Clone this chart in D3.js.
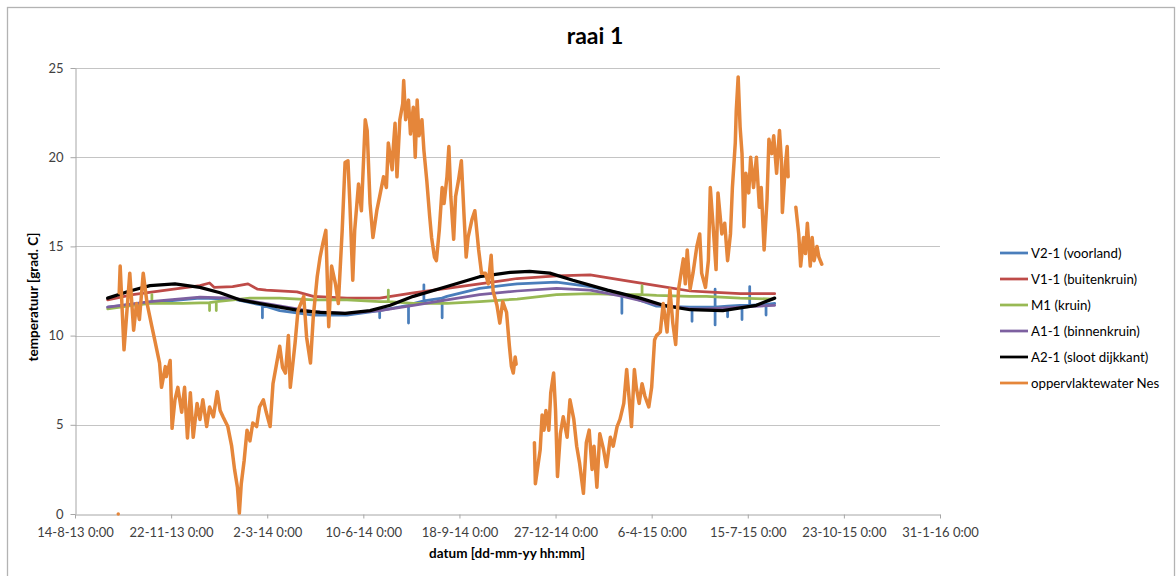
<!DOCTYPE html>
<html>
<head>
<meta charset="utf-8">
<script src="https://cdn.jsdelivr.net/npm/d3@7"></script>
<style>
  html, body { margin: 0; padding: 0; background: #ffffff; }
  svg { display: block; font-family: Lato, "Open Sans", "Liberation Sans", sans-serif; }
</style>
</head>
<body>
<svg id="chart" width="1176" height="576"></svg>
<script>
// ---- labels ----
const chartTitle = "raai 1";
const xAxisTitle = "datum [dd-mm-yy hh:mm]";
const yAxisTitle = "temperatuur [grad. C]";

// x axis: spreadsheet serial day numbers (days since 30-12-1899), one tick every 100 days
const xTickSerials = [41500, 41600, 41700, 41800, 41900, 42000, 42100, 42200, 42300, 42400];
const xTickLabels = ["14-8-13 0:00", "22-11-13 0:00", "2-3-14 0:00", "10-6-14 0:00", "18-9-14 0:00",
                     "27-12-14 0:00", "6-4-15 0:00", "15-7-15 0:00", "23-10-15 0:00", "31-1-16 0:00"];
const yTickValues = [0, 5, 10, 15, 20, 25];

const seriesNames = ["V2-1 (voorland)", "V1-1 (buitenkruin)", "M1 (kruin)",
                     "A1-1 (binnenkruin)", "A2-1 (sloot dijkkant)", "oppervlaktewater Nes"];
const seriesColors = ["#4A7EBB", "#BE4B48", "#98B954", "#7D60A0", "#000000", "#E5863A"];

// ---- measurements: [serial day, temperature °C]; null marks a gap in the record ----
const v2_1 = [[41534,11.6],[41578,11.85],[41630,12.1],[41664,12.05],[41695,11.7],[41695,11.0],[41695,11.7],
  [41713,11.4],[41748,11.15],[41783,11.15],[41817,11.4],[41817,11.0],[41817,11.4],[41847,11.7],[41847,10.7],
  [41847,11.7],[41852,11.8],[41863,11.95],[41863,12.85],[41863,11.95],[41882,12.1],[41882,11.0],[41882,12.1],
  [41887,12.2],[41921,12.65],[41960,12.9],[42001,13.0],[42036,12.75],[42069,12.35],[42069,11.25],[42069,12.35],
  [42071,12.3],[42105,11.65],[42140,11.6],[42142,11.6],[42142,10.8],[42142,11.6],[42157,11.6],[42166,11.6],
  [42166,10.6],[42166,12.6],[42166,11.6],[42179,11.65],[42179,11.05],[42179,11.65],[42192,11.7],[42194,11.7],
  [42194,10.9],[42194,11.7],[42202,11.7],[42202,12.75],[42202,11.7],[42219,11.75],[42219,11.15],[42219,11.75],
  [42228,11.8]];

const v1_1 = [[41534,12.0],[41560,12.3],[41595,12.55],[41630,12.8],[41640,12.95],[41645,12.7],[41664,12.75],
  [41680,12.9],[41690,12.6],[41699,12.55],[41731,12.45],[41748,12.2],[41783,12.1],[41817,12.1],[41852,12.4],
  [41887,12.65],[41921,12.9],[41960,13.2],[42001,13.35],[42036,13.4],[42071,13.1],[42105,12.8],[42140,12.5],
  [42157,12.45],[42192,12.35],[42228,12.35]];

const m1 = [[41534,11.5],[41560,11.7],[41578,11.8],[41580,11.8],[41580,12.3],[41580,11.8],[41612,11.8],
  [41640,11.85],[41640,11.4],[41640,11.85],[41647,11.9],[41647,11.4],[41647,11.9],[41682,12.1],[41713,12.1],
  [41748,12.0],[41783,12.0],[41817,11.9],[41826,11.9],[41826,12.55],[41826,11.9],[41852,11.8],[41887,11.8],
  [41921,11.9],[41960,12.05],[42001,12.3],[42036,12.35],[42070,12.3],[42090,12.3],[42090,12.8],[42090,12.3],
  [42105,12.25],[42140,12.2],[42157,12.2],[42192,12.1],[42226,12.05]];

const a1_1 = [[41534,11.6],[41578,11.9],[41630,12.15],[41664,12.1],[41699,11.8],[41731,11.5],[41748,11.35],
  [41783,11.25],[41817,11.4],[41852,11.7],[41887,12.0],[41921,12.3],[41960,12.5],[42001,12.65],[42036,12.55],
  [42070,12.2],[42105,11.75],[42140,11.5],[42157,11.5],[42192,11.6],[42228,11.7]];

const a2_1 = [[41534,12.1],[41557,12.5],[41578,12.8],[41604,12.9],[41630,12.7],[41651,12.4],[41664,12.15],
  [41672,12.0],[41692,11.8],[41713,11.6],[41734,11.4],[41755,11.3],[41781,11.25],[41807,11.4],[41828,11.7],
  [41852,12.2],[41887,12.75],[41921,13.3],[41953,13.55],[41973,13.6],[41994,13.5],[42018,13.1],[42054,12.55],
  [42088,12.1],[42112,11.7],[42140,11.45],[42174,11.4],[42209,11.7],[42228,12.1]];

const nes = [[41545,0],[41545.5,null],
  [41546,12.4],[41547,13.9],[41551,9.2],[41557,13.5],[41561,10.3],[41564,11.8],[41567,10.9],[41571,13.5],
  [41575,11.8],[41580,10.5],[41583,9.75],[41588,8.46],[41590,7.1],[41594,8.26],[41595,7.7],[41599,8.6],
  [41601,4.8],[41604,6.4],[41607,7.1],[41611,5.7],[41614,7.1],[41617,4.26],[41620,6.8],[41623,4.3],
  [41627,6.2],[41630,5.3],[41633,6.4],[41637,4.9],[41640,6.0],[41644,5.45],[41648,6.86],[41651,5.8],
  [41654,5.45],[41659,4.9],[41663,3.8],[41666,2.5],[41669,1.5],[41671,0.05],[41673,1.7],[41676,3.0],
  [41679,4.7],[41682,4.1],[41685,5.1],[41689,4.9],[41692,6.0],[41696,6.4],[41699,5.7],[41703,4.9],
  [41706,7.3],[41710,8.5],[41713,9.4],[41716,8.2],[41719,7.9],[41722,10.0],[41724,7.1],[41729,9.6],
  [41732,11.4],[41738,12.2],[41741,9.9],[41745,8.46],[41748,11.1],[41752,13.3],[41755,14.4],[41758,15.2],
  [41761,15.9],[41764,10.5],[41767,13.9],[41771,12.9],[41774,11.8],[41778,15.9],[41781,19.7],[41784,19.8],
  [41786,17.4],[41789,13.1],[41791,15.9],[41795,18.5],[41798,17.0],[41802,22.1],[41804,21.5],[41807,17.4],
  [41810,15.5],[41814,17.0],[41817,17.8],[41821,18.9],[41824,18.3],[41826,20.8],[41830,19.3],[41831,20.4],
  [41833,21.9],[41835,18.9],[41838,22.1],[41841,23.0],[41842,24.3],[41844,22.1],[41847,23.2],[41849,21.3],
  [41852,22.8],[41854,20.0],[41856,23.2],[41858,21.2],[41861,22.1],[41863,20.4],[41866,18.7],[41869,16.7],
  [41871,15.5],[41874,14.4],[41876,14.2],[41879,15.9],[41882,18.3],[41884,17.4],[41887,18.9],[41889,20.6],
  [41891,17.8],[41894,15.4],[41896,17.8],[41899,18.7],[41902,19.8],[41905,16.5],[41907,14.4],[41909,15.5],
  [41913,16.5],[41916,17.0],[41918,15.9],[41920,14.8],[41923,13.5],[41927,13.5],[41930,12.9],[41933,14.5],
  [41935,12.5],[41939,11.7],[41942,10.7],[41945,11.9],[41949,11.3],[41952,9.4],[41954,8.3],[41956,7.9],
  [41958,8.8],[41959,8.4],[41968,null],
  [41978,4.0],[41979,1.7],[41984,3.6],[41986,5.55],[41988,4.7],[41990,5.8],[41993,4.7],[41995,6.8],
  [41998,7.9],[42000,5.8],[42002,2.1],[42005,4.5],[42008,5.45],[42012,4.3],[42015,6.4],[42019,5.3],
  [42022,3.8],[42025,2.85],[42029,1.16],[42032,4.0],[42035,4.7],[42038,2.5],[42040,3.8],[42043,1.5],
  [42046,4.5],[42050,3.6],[42053,2.65],[42057,4.3],[42060,3.8],[42064,4.9],[42067,5.3],[42071,6.2],
  [42074,8.1],[42077,6.2],[42079,4.9],[42082,8.1],[42084,7.1],[42087,6.2],[42090,7.3],[42093,6.6],
  [42097,6.0],[42100,7.1],[42103,9.75],[42105,10.0],[42109,10.2],[42112,11.8],[42116,10.2],[42119,12.6],
  [42122,10.7],[42125,9.5],[42128,12.6],[42130,13.3],[42133,14.3],[42135,12.9],[42137,14.8],[42140,12.6],
  [42143,13.5],[42147,15.0],[42150,15.7],[42152,13.5],[42156,12.7],[42159,14.2],[42161,18.3],[42164,16.1],
  [42167,13.7],[42169,18.0],[42173,15.7],[42176,16.3],[42179,14.2],[42182,15.7],[42184,18.3],[42187,20.8],
  [42188,22.6],[42190,24.5],[42192,21.7],[42194,20.2],[42196,16.1],[42198,19.1],[42201,18.0],[42203,20.0],
  [42206,18.3],[42209,20.0],[42212,17.2],[42214,18.3],[42217,14.8],[42220,17.6],[42222,21.0],[42225,20.2],
  [42227,21.2],[42230,19.1],[42233,21.5],[42235,19.8],[42236,16.9],[42239,19.5],[42241,20.6],[42242,18.9],
  [42246,null],
  [42250,17.2],[42253,15.7],[42255,13.9],[42258,15.5],[42260,14.6],[42262,16.3],[42265,13.9],[42267,15.5],
  [42269,14.2],[42272,15.0],[42274,14.4],[42277,14.0]];

const seriesData = [v2_1, v1_1, m1, a1_1, a2_1, nes];
const seriesWidths = [2.75, 2.75, 2.75, 2.75, 3.25, 3.5];

// ---- drawing ----
const svg = d3.select("#chart");
const plot = { left: 75, right: 940, top: 68, bottom: 514 };

// serial day -> JS date
const epoch = Date.UTC(1899, 11, 30);
const toDate = s => new Date(epoch + s * 864e5);

const x = d3.scaleUtc()
  .domain([toDate(xTickSerials[0]), toDate(xTickSerials[xTickSerials.length - 1])])
  .range([plot.left, plot.right]);
const y = d3.scaleLinear().domain([0, 25]).range([plot.bottom, plot.top]);

// chart frame
svg.append("rect")
  .attr("x", 7.5).attr("y", 7.5).attr("width", 1167).attr("height", 590)
  .attr("fill", "#ffffff").attr("stroke", "#b3b3b3").attr("stroke-width", 1.3);

// horizontal gridlines
svg.append("g")
  .selectAll("line")
  .data(yTickValues.filter(v => v > 0))
  .join("line")
  .attr("x1", plot.left).attr("x2", plot.right)
  .attr("y1", d => Math.round(y(d)) + 0.5).attr("y2", d => Math.round(y(d)) + 0.5)
  .attr("stroke", "#c4c4c4").attr("stroke-width", 1);

// y axis
const yAxis = svg.append("g")
  .attr("transform", `translate(${plot.left + 0.5},0)`)
  .call(d3.axisLeft(y).tickValues(yTickValues).tickSize(5).tickPadding(7).tickSizeOuter(0));
yAxis.select(".domain").attr("stroke", "#a6a6a6");
yAxis.selectAll(".tick line").attr("stroke", "#a6a6a6");
yAxis.selectAll(".tick text")
  .attr("font-family", "Lato, sans-serif").attr("font-size", 13).attr("fill", "#404040");

// x axis
const xAxis = svg.append("g")
  .attr("transform", `translate(0,${plot.bottom + 0.5})`)
  .call(d3.axisBottom(x)
    .tickValues(xTickSerials.map(toDate))
    .tickFormat((d, i) => xTickLabels[i])
    .tickSize(4).tickPadding(9).tickSizeOuter(0));
xAxis.select(".domain").attr("stroke", "#a6a6a6");
xAxis.selectAll(".tick line").attr("stroke", "#a6a6a6");
xAxis.selectAll(".tick text")
  .attr("font-family", "Lato, sans-serif").attr("font-size", 13).attr("fill", "#404040");

// series lines, first series at the bottom, surface water on top
const line = d3.line()
  .defined(d => d[1] !== null)
  .x(d => x(toDate(d[0])))
  .y(d => y(d[1]));

svg.append("g")
  .selectAll("path")
  .data(seriesData)
  .join("path")
  .attr("d", d => line(d))
  .attr("fill", "none")
  .attr("stroke", (d, i) => seriesColors[i])
  .attr("stroke-width", (d, i) => seriesWidths[i])
  .attr("stroke-linejoin", "round")
  .attr("stroke-linecap", "round");

// title
svg.append("text")
  .attr("x", 595).attr("y", 44)
  .attr("text-anchor", "middle")
  .attr("font-size", 23).attr("font-weight", "bold").attr("fill", "#000")
  .text(chartTitle);

// axis titles
svg.append("text")
  .attr("x", 507).attr("y", 558)
  .attr("text-anchor", "middle")
  .attr("font-size", 13.5).attr("font-weight", "bold").attr("fill", "#000")
  .text(xAxisTitle);

svg.append("text")
  .attr("transform", "translate(38,297) rotate(-90)")
  .attr("text-anchor", "middle")
  .attr("font-size", 13.5).attr("font-weight", "bold").attr("fill", "#000")
  .text(yAxisTitle);

// legend
const legend = svg.append("g").attr("transform", "translate(1000,253)");
const item = legend.selectAll("g")
  .data(seriesNames)
  .join("g")
  .attr("transform", (d, i) => `translate(0,${i * 26})`);
item.append("line")
  .attr("x1", 0).attr("x2", 28).attr("y1", 0).attr("y2", 0)
  .attr("stroke", (d, i) => seriesColors[i])
  .attr("stroke-width", 2.75);
item.append("text")
  .attr("x", 31).attr("y", 4.5)
  .attr("font-size", 13.25).attr("fill", "#000")
  .text(d => d);
</script>
</body>
</html>
